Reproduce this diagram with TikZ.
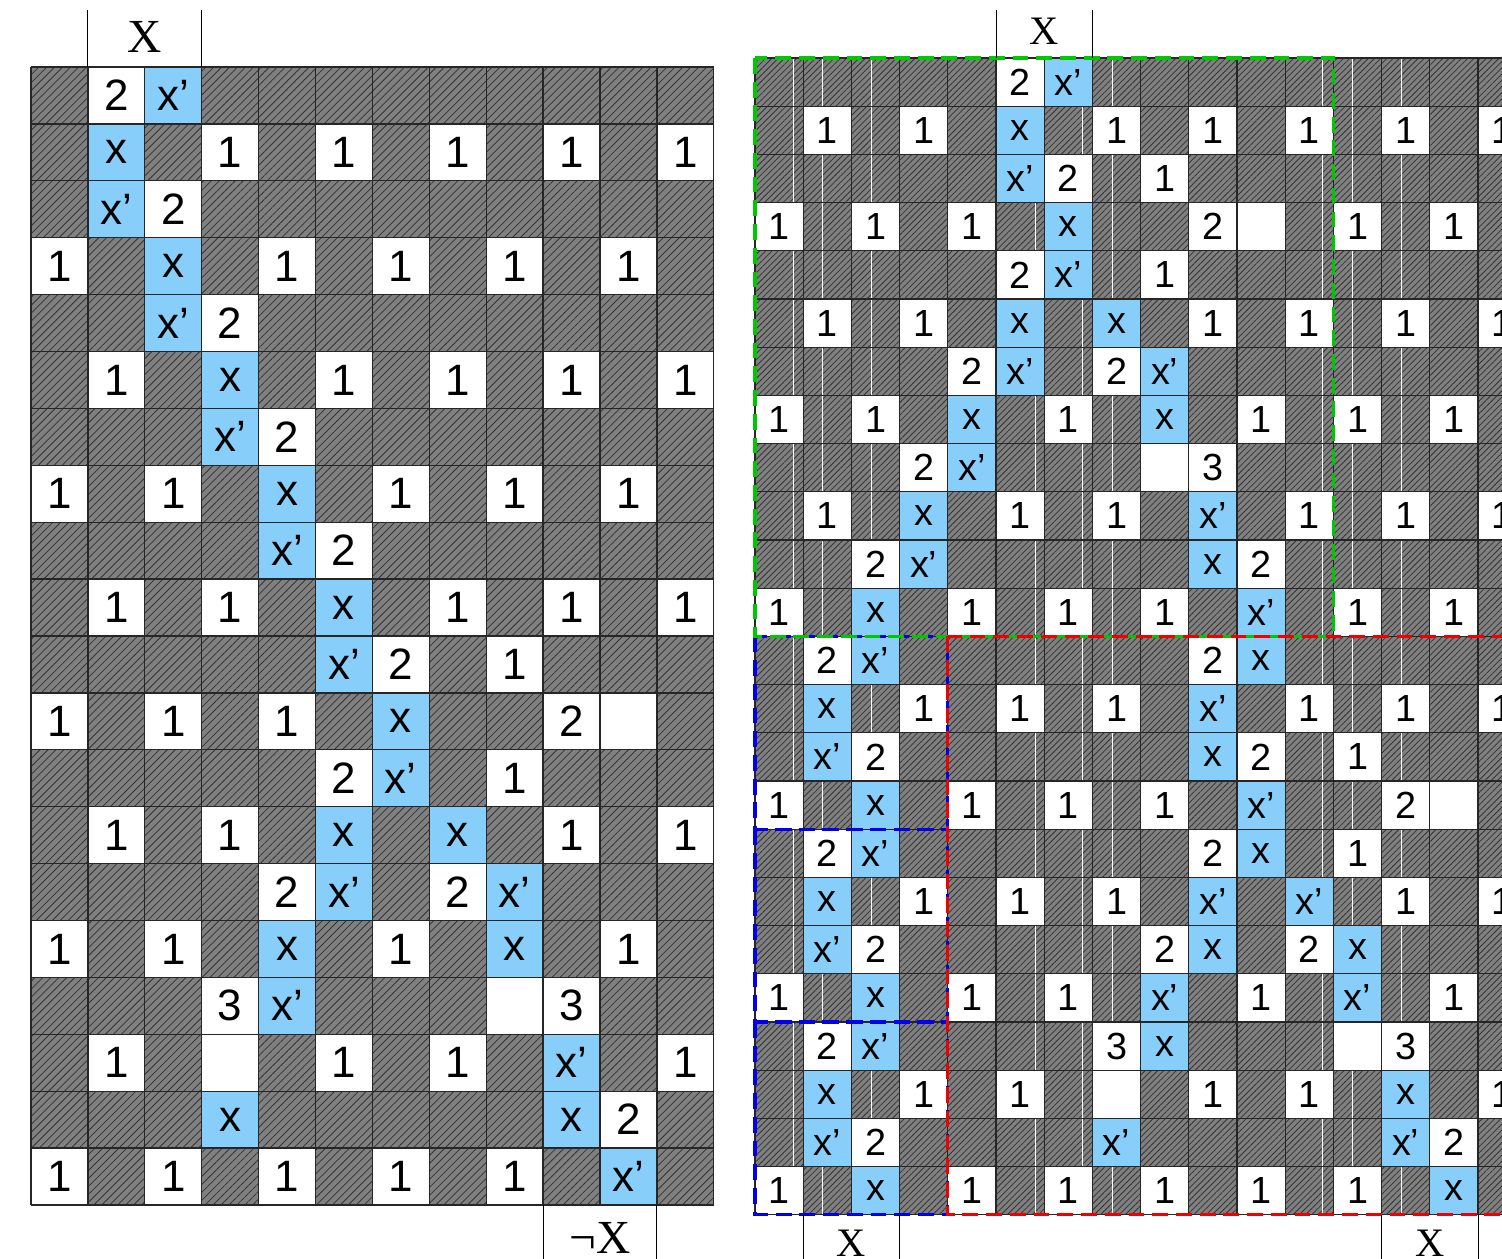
\documentclass[tikz,border=0pt]{standalone}
\usepackage{fontspec}
\setmainfont{Liberation Serif}
\newfontfamily\cellfont{Liberation Sans}
\usetikzlibrary{patterns.meta}
\definecolor{hatchgray}{RGB}{128,128,128}
\definecolor{cellblue}{RGB}{135,206,250}
\definecolor{boxgreen}{RGB}{0,200,0}
\definecolor{boxred}{RGB}{240,0,0}
\definecolor{boxblue}{RGB}{0,0,235}

\begin{document}
\begin{tikzpicture}[
  hatch/.style={fill=hatchgray, postaction={pattern={Lines[angle=45,distance=#1,line width=0.45pt]},
                pattern color=black!80}},
  gridln/.style={line width=0.7pt, draw=black!85},
  tick/.style={line width=0.55pt, draw=black},
  seam/.style={line width=0.4pt, draw=white},
  lcell/.style={rectangle, inner sep=0pt, minimum size=1.138cm, fill=#1,
                font=\cellfont\fontsize{25}{25}\selectfont},
  rcell/.style={rectangle, inner sep=0pt, minimum size=0.964cm, fill=#1,
                font=\cellfont\fontsize{21.5}{21.5}\selectfont},
  lab/.style={inner sep=0pt, font=\fontsize{#1}{#1}\selectfont},
  frame/.style={line width=1.8pt, dash pattern=on 9pt off 4.5pt, draw=#1}
]
\useasboundingbox (0,0) rectangle (30.04,-25.18);

% left board
\begin{scope}[shift={(0.62,-1.34)}, x=1.138cm, y=-1.138cm]
\fill[hatch=3.2pt] (0,0) rectangle (12,20);
\foreach \c/\r/\t in {1/0/2, 3/1/1, 5/1/1, 7/1/1, 9/1/1, 11/1/1, 2/2/2,
    0/3/1, 4/3/1, 6/3/1, 8/3/1, 10/3/1, 3/4/2, 1/5/1, 5/5/1, 7/5/1, 9/5/1, 11/5/1,
    4/6/2, 0/7/1, 2/7/1, 6/7/1, 8/7/1, 10/7/1, 5/8/2, 1/9/1, 3/9/1, 7/9/1, 9/9/1, 11/9/1,
    6/10/2, 8/10/1, 0/11/1, 2/11/1, 4/11/1, 9/11/2, 10/11/{}, 5/12/2, 8/12/1,
    1/13/1, 3/13/1, 9/13/1, 11/13/1, 4/14/2, 7/14/2, 0/15/1, 2/15/1, 6/15/1, 10/15/1,
    3/16/3, 8/16/{}, 9/16/3, 1/17/1, 3/17/{}, 5/17/1, 7/17/1, 11/17/1, 10/18/2,
    0/19/1, 2/19/1, 4/19/1, 6/19/1, 8/19/1}
  \node[lcell=white] (l-\c-\r) at (\c+0.5,\r+0.5) {\t};
\foreach \c/\r/\t in {1/1/x, 2/3/x, 3/5/x, 4/7/x, 5/9/x, 6/11/x, 5/13/x, 7/13/x,
    4/15/x, 8/15/x, 3/18/x, 9/18/x, 2/0/x’, 1/2/x’, 2/4/x’, 3/6/x’, 4/8/x’, 5/10/x’,
    6/12/x’, 5/14/x’, 8/14/x’, 4/16/x’, 9/17/x’, 10/19/x’}
  \node[lcell=cellblue] (l-\c-\r) at (\c+0.5,\r+0.5) {\t};
\foreach \c in {0,...,12} \draw[gridln] (\c,0) -- (\c,20);
\foreach \r in {0,...,20} \draw[gridln] (0,\r) -- (12,\r);
\draw[tick] (1,-1) -- (1,0) (3,-1) -- (3,0) (9,20) -- (9,21) (11,20) -- (11,21);
\node[lab=27] (ltop) at (2,-0.52) {X};
\node[lab=27] (lbot) at (10,20.58) {¬X};
\end{scope}

% right board
\begin{scope}[shift={(15.1,-1.16)}, x=0.964cm, y=-0.964cm]
\clip (-0.5,-1.3) rectangle (15.5,25.2);
\fill[hatch=2.5pt] (0,0) rectangle (16,24);
\foreach \s in {0.79,1.39,2.41,5.81,6.80,7.41,11.78,12.39,13.40}
  \draw[seam] (\s,0) -- (\s,24);
\foreach \c/\r/\t in {5/0/2, 1/1/1, 3/1/1, 7/1/1, 9/1/1, 11/1/1, 13/1/1, 15/1/1,
    6/2/2, 8/2/1, 0/3/1, 2/3/1, 4/3/1, 9/3/2, 10/3/{}, 12/3/1, 14/3/1, 5/4/2, 8/4/1,
    1/5/1, 3/5/1, 9/5/1, 11/5/1, 13/5/1, 15/5/1, 4/6/2, 7/6/2,
    0/7/1, 2/7/1, 6/7/1, 10/7/1, 12/7/1, 14/7/1, 3/8/2, 8/8/{}, 9/8/3,
    1/9/1, 5/9/1, 7/9/1, 11/9/1, 13/9/1, 15/9/1, 2/10/2, 10/10/2,
    0/11/1, 4/11/1, 6/11/1, 8/11/1, 12/11/1, 14/11/1, 1/12/2, 9/12/2,
    3/13/1, 5/13/1, 7/13/1, 11/13/1, 13/13/1, 15/13/1, 2/14/2, 10/14/2, 12/14/1,
    0/15/1, 4/15/1, 6/15/1, 8/15/1, 13/15/2, 14/15/{}, 1/16/2, 9/16/2, 12/16/1,
    3/17/1, 5/17/1, 7/17/1, 13/17/1, 15/17/1, 2/18/2, 8/18/2, 11/18/2,
    0/19/1, 4/19/1, 6/19/1, 10/19/1, 14/19/1, 1/20/2, 7/20/3, 12/20/{}, 13/20/3,
    3/21/1, 5/21/1, 7/21/{}, 9/21/1, 11/21/1, 15/21/1, 2/22/2, 14/22/2,
    0/23/1, 4/23/1, 6/23/1, 8/23/1, 10/23/1, 12/23/1}
  \node[rcell=white] (r-\c-\r) at (\c+0.5,\r+0.5) {\t};
\foreach \c/\r/\t in {5/1/x, 6/3/x, 5/5/x, 7/5/x, 4/7/x, 8/7/x, 3/9/x, 9/10/x,
    2/11/x, 10/12/x, 1/13/x, 9/14/x, 2/15/x, 10/16/x, 1/17/x, 9/18/x, 12/18/x,
    2/19/x, 8/20/x, 1/21/x, 13/21/x, 2/23/x, 14/23/x,
    6/0/x’, 5/2/x’, 6/4/x’, 5/6/x’, 8/6/x’, 4/8/x’, 9/9/x’, 3/10/x’, 10/11/x’,
    2/12/x’, 9/13/x’, 1/14/x’, 10/15/x’, 2/16/x’, 9/17/x’, 11/17/x’, 1/18/x’,
    8/19/x’, 12/19/x’, 2/20/x’, 1/22/x’, 7/22/x’, 13/22/x’}
  \node[rcell=cellblue] (r-\c-\r) at (\c+0.5,\r+0.5) {\t};
\foreach \c in {0,...,16} \draw[gridln] (\c,0) -- (\c,24);
\foreach \r in {0,...,24} \draw[gridln] (0,\r) -- (16,\r);
\draw[frame=boxblue] (0,12) rectangle (4,16);
\draw[frame=boxblue] (0,16) rectangle (4,20);
\draw[frame=boxblue] (0,20) rectangle (4,24);
\draw[frame=boxgreen] (0,0) rectangle (12,12);
\draw[frame=boxred] (4,12) rectangle (17,24);
\draw[tick] (5,-1) -- (5,0) (7,-1) -- (7,0) (1,24) -- (1,25) (3,24) -- (3,25)
  (13,24) -- (13,25) (15,24) -- (15,25);
\node[lab=23] (rtop) at (6,-0.55) {X};
\node[lab=23] (rbot) at (2,24.58) {X};
\node[lab=23] (rbot2) at (14,24.58) {X};
\end{scope}
\end{tikzpicture}
\end{document}
